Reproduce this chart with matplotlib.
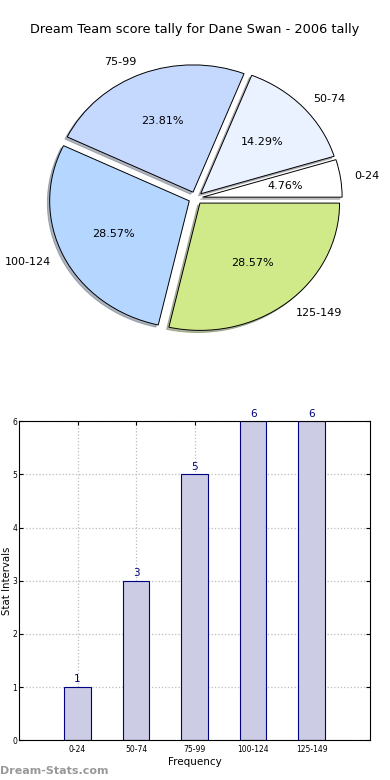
import matplotlib
matplotlib.use("Agg")
import matplotlib.pyplot as plt

# data
ranges = ['0-24', '50-74', '75-99', '100-124', '125-149']
counts = [1, 3, 5, 6, 6]
pie_colors = ['#ffffff', '#eaf1ff', '#c5d9ff', '#b5d6ff', '#d0ea8a']

fig = plt.figure(figsize=(3.9, 7.8), dpi=100)

# pie chart
ax1 = fig.add_axes([0.054, 0.542, 0.895, 0.408])
ax1.pie(counts, labels=ranges, colors=pie_colors, explode=[0.05] * len(counts),
        autopct='%1.2f%%', startangle=0,
        shadow=dict(ox=-0.012, oy=-0.012, shade=0.5),
        wedgeprops=dict(edgecolor='black', linewidth=0.7),
        textprops=dict(fontsize=8))
ax1.set_aspect('auto')
ax1.set_xlim(-1.25, 1.25)
ax1.set_ylim(-1.25, 1.25)
fig.text(0.5, 0.962, 'Dream Team score tally for Dane Swan - 2006 tally',
         ha='center', va='center', fontsize=9.3)

# bar chart
ax2 = fig.add_axes([0.049, 0.051, 0.9, 0.409])
x = list(range(len(ranges)))
ax2.bar(x, counts, width=0.45, color='#cccce4',
        edgecolor='#000080', linewidth=0.8, zorder=2)
for xi, c in zip(x, counts):
    ax2.text(xi, c + 0.05, str(c), ha='center', va='bottom',
             color='#000080', fontsize=7.5)
ax2.set_xlim(-1, 5)
ax2.set_ylim(0, 6)
ax2.set_xticks(x)
ax2.set_xticklabels(ranges, fontsize=5.5)
ax2.tick_params(axis='y', labelsize=5.5, pad=1.5)
ax2.tick_params(direction='in', length=3, top=True, right=True)
ax2.grid(True, linestyle=':', color='#bbbbbb', linewidth=0.9, zorder=0)
ax2.set_axisbelow(True)
ax2.set_xlabel('Frequency', fontsize=7.5, labelpad=2)
ax2.set_ylabel('Stat Intervals', fontsize=7.3)
ax2.yaxis.set_label_coords(-0.019, 0.5)

fig.text(0.0, 0.012, 'Dream-Stats.com', color='#999999', fontsize=8,
         fontweight='bold', ha='left', va='center')

fig.savefig('out.png', dpi=100)
